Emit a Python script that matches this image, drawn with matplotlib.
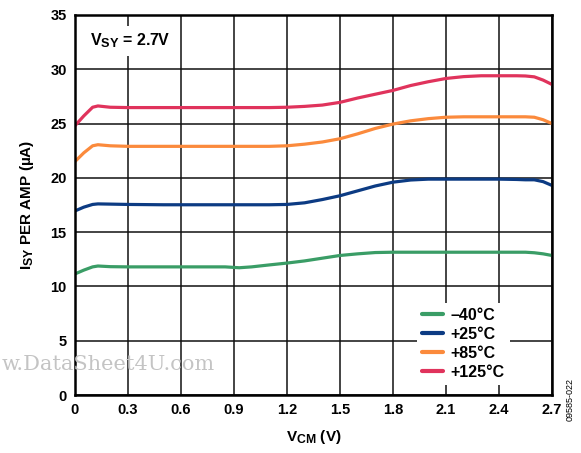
import matplotlib
matplotlib.use("Agg")
import matplotlib.pyplot as plt
import matplotlib._mathtext as _mt

# slightly larger subscripts for the V_SY / V_CM / I_SY labels
_mt.SHRINK_FACTOR = 0.8

plt.rcParams['font.family'] = ['Liberation Sans', 'DejaVu Sans']
plt.rcParams['font.weight'] = 'bold'
plt.rcParams['mathtext.fontset'] = 'custom'
plt.rcParams['mathtext.rm'] = 'Liberation Sans:bold'
plt.rcParams['mathtext.it'] = 'Liberation Sans:bold'
plt.rcParams['mathtext.bf'] = 'Liberation Sans:bold'

# Common-mode voltage sample points (V)
vcm = [0.0, 0.05, 0.1, 0.13, 0.2, 0.3, 0.5, 0.7, 0.85, 0.93, 1.0, 1.1, 1.2, 1.3,
       1.4, 1.5, 1.6, 1.7, 1.8, 1.9, 2.0, 2.1, 2.2, 2.3, 2.4, 2.5, 2.55, 2.6, 2.65, 2.7]

# Supply current per amplifier (uA)
isy_m40 = [11.15, 11.5, 11.8, 11.88, 11.82, 11.8, 11.8, 11.8, 11.8, 11.72, 11.8, 11.98, 12.15, 12.35,
           12.6, 12.85, 13.0, 13.12, 13.15, 13.15, 13.15, 13.15, 13.15, 13.15, 13.15, 13.15, 13.15, 13.1, 13.0, 12.85]
isy_25 = [16.95, 17.3, 17.55, 17.6, 17.58, 17.55, 17.52, 17.52, 17.52, 17.52, 17.52, 17.52, 17.55, 17.7,
          18.0, 18.35, 18.8, 19.25, 19.6, 19.8, 19.88, 19.88, 19.88, 19.88, 19.88, 19.85, 19.82, 19.82, 19.65, 19.3]
isy_85 = [21.5, 22.3, 22.95, 23.05, 22.95, 22.9, 22.9, 22.9, 22.9, 22.9, 22.9, 22.9, 22.95, 23.1,
          23.3, 23.6, 24.05, 24.55, 24.95, 25.25, 25.45, 25.58, 25.62, 25.62, 25.62, 25.62, 25.62, 25.58, 25.35, 25.0]
isy_125 = [24.8, 25.7, 26.5, 26.62, 26.5, 26.47, 26.47, 26.47, 26.47, 26.47, 26.47, 26.47, 26.5, 26.58,
           26.7, 26.95, 27.35, 27.7, 28.05, 28.5, 28.85, 29.15, 29.32, 29.4, 29.4, 29.4, 29.38, 29.3, 29.0, 28.6]

series = [
    ('\u201340\u00b0C', isy_m40, '#3a9d66'),
    ('+25\u00b0C', isy_25, '#0c3b83'),
    ('+85\u00b0C', isy_85, '#fb8a3c'),
    ('+125\u00b0C', isy_125, '#e0335c'),
]

xticks = [0, 0.3, 0.6, 0.9, 1.2, 1.5, 1.8, 2.1, 2.4, 2.7]
xticklabels = ['0', '0.3', '0.6', '0.9', '1.2', '1.5', '1.8', '2.1', '2.4', '2.7']
yticks = [0, 5, 10, 15, 20, 25, 30, 35]

fig = plt.figure(figsize=(5.81, 4.53), dpi=100)
ax = fig.add_axes([0.129, 0.128, 0.821, 0.839])

for label, vals, col in series:
    ax.plot(vcm, vals, color=col, lw=2.3, label=label, solid_capstyle='round', zorder=3)

ax.set_xlim(0, 2.7)
ax.set_ylim(0, 35)
ax.set_xticks(xticks)
ax.set_xticklabels(xticklabels)
ax.set_yticks(yticks)
ax.grid(True, color='#111111', lw=1.1, zorder=1)
ax.set_axisbelow(True)
ax.tick_params(length=0, labelsize=10.5, pad=6)
for s in ax.spines.values():
    s.set_linewidth(1.8)
    s.set_zorder(4)

ax.set_xlabel('V$_{CM}$ (V)', fontsize=11, fontweight='bold', labelpad=8)
ax.set_ylabel('I$_{SY}$ PER AMP (\u00b5A)', fontsize=11, fontweight='bold', labelpad=10)

ax.text(0.085, 32.6, 'V$_{SY}$ = 2.7V', fontsize=11.5, fontweight='bold', va='center', ha='left',
        bbox=dict(facecolor='white', edgecolor='none', pad=4), zorder=5)

leg = ax.legend(loc='lower right', bbox_to_anchor=(0.928, 0.006), frameon=True, fontsize=11.5,
                handlelength=1.3, handletextpad=0.5, labelspacing=0.25, borderpad=0.3)
leg.get_frame().set_edgecolor('none')
leg.get_frame().set_facecolor('white')
leg.get_frame().set_alpha(1)
for h in leg.get_lines():
    h.set_linewidth(3.0)

fig.text(0.002, 0.195, 'w.DataSheet4U.com', family='DejaVu Serif', fontsize=15,
         color='#c4c4c4', fontweight='normal', va='center', ha='left')
fig.text(0.982, 0.07, '09585-022', rotation=90, fontsize=6.5, fontweight='normal',
         va='bottom', ha='center')

fig.savefig('out.png', dpi=100)
